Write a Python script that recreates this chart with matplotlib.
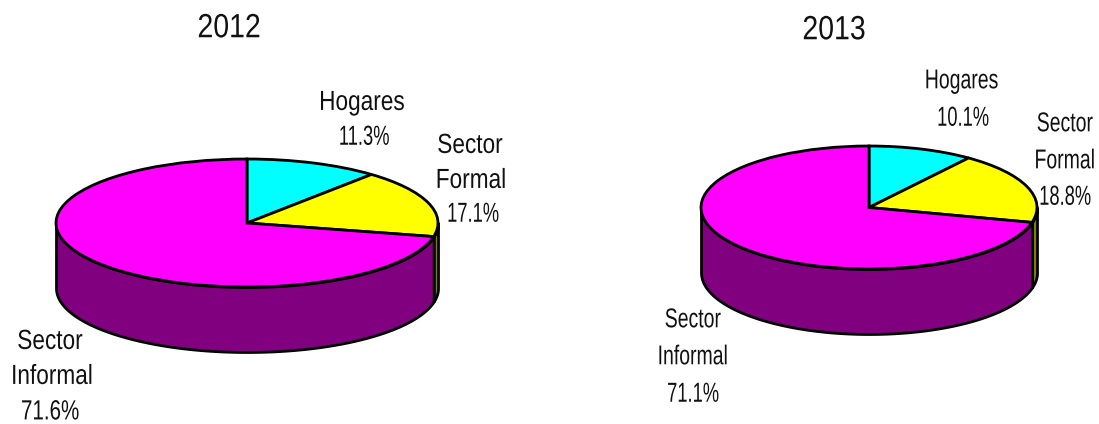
import numpy as np
import matplotlib
matplotlib.use("Agg")
import matplotlib.pyplot as plt
from matplotlib.patheffects import AbstractPathEffect
from matplotlib.transforms import Affine2D

years = ["2012", "2013"]
sectors = ["Hogares", "Sector Formal", "Sector Informal"]
values_2012 = [11.3, 17.1, 71.6]
values_2013 = [10.1, 18.8, 71.1]
top_colors = ["#00FFFF", "#FFFF00", "#FF00FF"]
side_colors = ["#008080", "#808000", "#800080"]

W, H = 1099, 424
FONT = ["Liberation Sans", "DejaVu Sans"]
fig = plt.figure(figsize=(W / 100, H / 100), dpi=100, facecolor="white")


class TallText(AbstractPathEffect):
    """Stretch a text vertically about a fixed height, as in the squeezed reference lettering."""

    def __init__(self, y_px, stretch):
        super().__init__()
        self.y_px = y_px
        self.stretch = stretch

    def draw_path(self, renderer, gc, tpath, affine, rgbFace=None):
        t = affine + Affine2D().translate(0, -self.y_px).scale(1, self.stretch).translate(0, self.y_px)
        renderer.draw_path(gc, tpath, t, rgbFace)


def pie3d(values, cx, cy, rx, ry, depth):
    ax = fig.add_axes([0, 0, 1, 1], facecolor="none")
    ax.pie(values, colors=top_colors, startangle=90, counterclock=False, radius=1,
           wedgeprops=dict(edgecolor="black", linewidth=2.0, zorder=3))
    ax.set_aspect("auto")
    ax.set_xlim(-cx / rx, (W - cx) / rx)
    ax.set_ylim((cy - H) / ry, cy / ry)
    ax.axis("off")
    d = depth / ry
    start = 90.0
    for v, col in zip(values, side_colors):
        end = start - v * 3.6
        lo, hi = end, start
        # only the part of the rim on the front half of the ellipse shows
        if lo < -180:
            lo = -180
        hi = min(hi, 0)
        if hi > lo:
            t = np.radians(np.linspace(lo, hi, 120))
            ax.fill_between(np.cos(t), np.sin(t), np.sin(t) - d, facecolor=col,
                            edgecolor="black", linewidth=2.0, zorder=2)
        start = end
    return ax


pie3d(values_2012, 247, 223, 191, 64, 65)
pie3d(values_2013, 869, 207.5, 168, 61.5, 65)


def label(x, y, s, size=16.3, stretch=1.22):
    t = fig.text(x / W, 1 - y / H, s, ha="center", va="center", fontsize=size,
                 family=FONT, color="#111111")
    t.set_path_effects([TallText(H - y, stretch)])


label(229, 29, years[0], 20.5, 1.18)
label(834, 31, years[1], 20.5, 1.18)

for x, y, s in [(362, 102, "Hogares"), (470, 145, "Sector"), (471, 180, "Formal"),
                (50, 341, "Sector"), (52, 376, "Informal")]:
    label(x, y, s)
for x, y, s in [(962, 82, "Hogares"), (1065, 125, "Sector"), (1065, 162, "Formal"),
                (693, 321, "Sector"), (693, 358, "Informal")]:
    label(x, y, s, 14.0, 1.4)
for x, y, s in [(364, 138, f"{values_2012[0]}%"), (473, 215, f"{values_2012[1]}%"),
                (963, 119, f"{values_2013[0]}%"), (1065, 198, f"{values_2013[1]}%"),
                (693, 395, f"{values_2013[2]}%")]:
    label(x, y, s, 13.2, 1.5)
label(50, 412, f"{values_2012[2]}%", 14.8, 1.35)

fig.savefig("out.png", dpi=100, facecolor="white")
